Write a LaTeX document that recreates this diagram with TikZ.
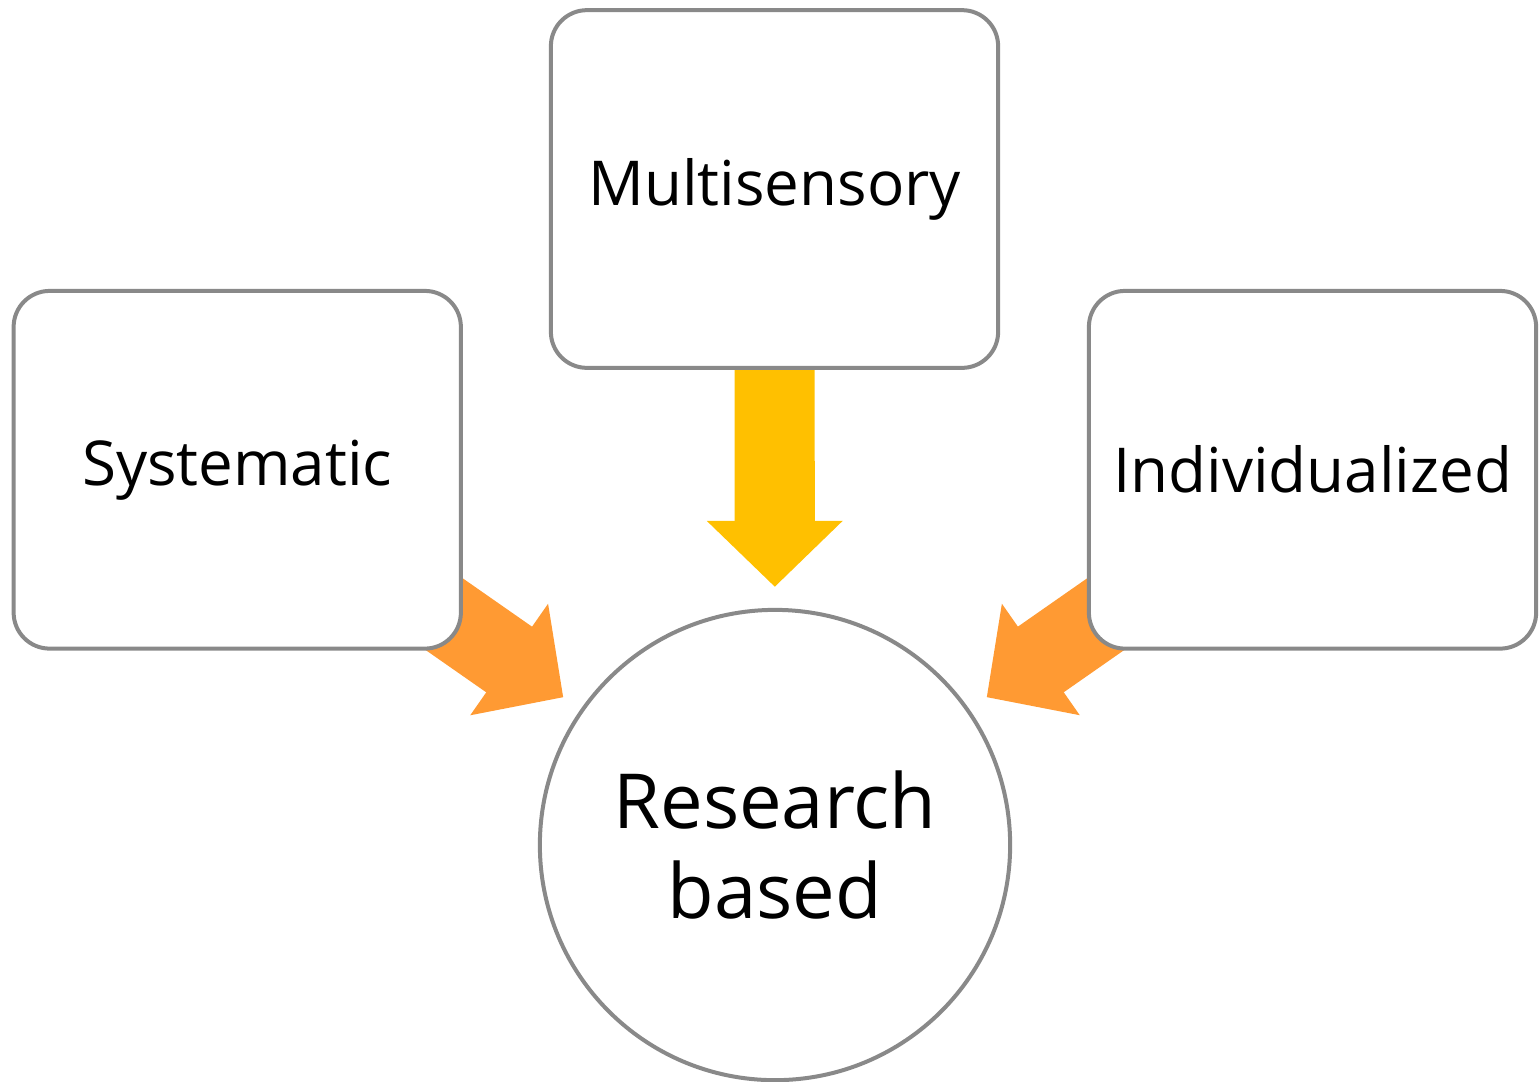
\documentclass[tikz,border=0pt]{standalone}
\usepackage{fontspec}
\setmainfont{Open Sans}
\usetikzlibrary{arrows.meta}
\definecolor{boxgray}{RGB}{137,137,137}
\definecolor{arrowyellow}{RGB}{255,192,0}
\definecolor{arroworange}{RGB}{255,154,51}
\pgfdeclarelayer{back}
\pgfsetlayers{back,main}

\begin{document}
\begin{tikzpicture}[x=0.01cm,y=-0.01cm,
  box/.style={draw=boxgray,line width=0.04cm,fill=white,rounded corners=0.36cm,
    minimum width=4.47cm,minimum height=3.575cm,inner sep=0pt,
    font=\fontsize{17.6}{21}\selectfont},
  rescircle/.style={circle,draw=boxgray,line width=0.04cm,fill=white,
    minimum size=4.7cm,inner sep=0pt,align=center,
    font=\fontsize{21.6}{25.5}\selectfont},
  fatarrow/.style={line width=0.8cm,-{Triangle[length=0.66cm,width=1.32cm]},
    shorten >=0.21cm}]
\useasboundingbox (0,0) rectangle (1540,1081);
\node[box] (sys) at (237.25,469.75) {Systematic};
\node[box] (multi) at (774.5,189) {Multisensory};
\node[box] (indiv) at (1312.5,469.75) {Individualized};
\node[rescircle] (res) at (775,845) {Research\\based};
% arrows sit behind the boxes
\begin{pgfonlayer}{back}
\draw[fatarrow,arroworange] (sys.center) -- (res);
\draw[fatarrow,arrowyellow] (multi.center) -- (res);
\draw[fatarrow,arroworange] (indiv.center) -- (res);
\end{pgfonlayer}
\end{tikzpicture}
\end{document}
